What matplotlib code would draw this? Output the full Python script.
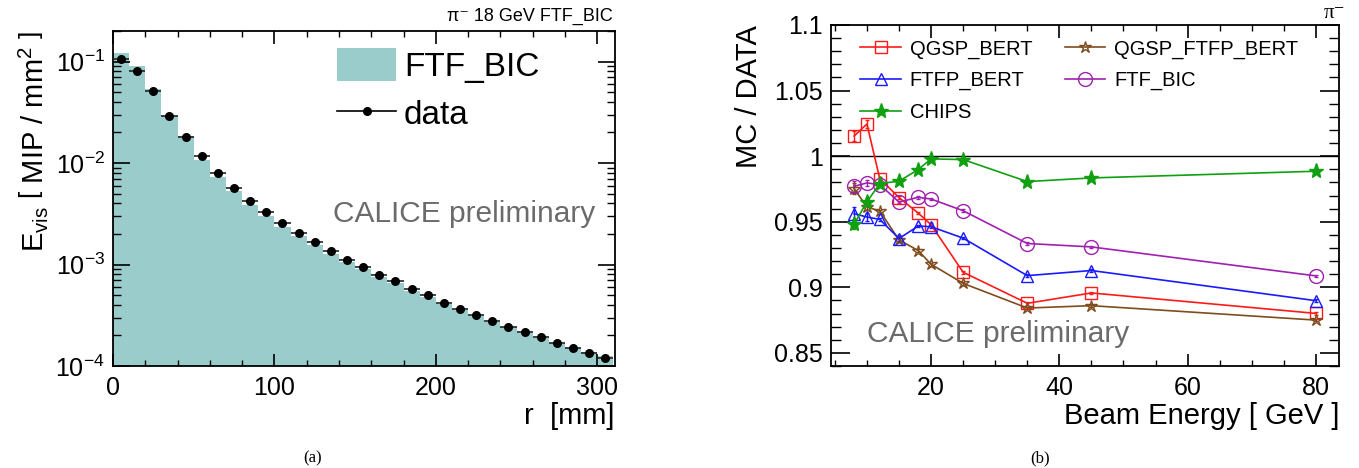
import numpy as np
import matplotlib
matplotlib.use("Agg")
import matplotlib.pyplot as plt
from matplotlib.patches import Patch
from matplotlib.lines import Line2D
from matplotlib.ticker import MultipleLocator, LogLocator, NullFormatter

plt.rcParams['font.family'] = ['Liberation Sans', 'DejaVu Sans']
plt.rcParams['mathtext.fontset'] = 'custom'
plt.rcParams['mathtext.rm'] = 'Liberation Sans'
plt.rcParams['mathtext.it'] = 'Liberation Sans:italic'

# ---------------- Panel (a) data ----------------
r_edges = [0, 10, 20, 30, 40, 50, 60, 70, 80, 90, 100, 110, 120, 130, 140, 150,
           160, 170, 180, 190, 200, 210, 220, 230, 240, 250, 260, 270, 280, 290, 300, 310]
r_centers = [5, 15, 25, 35, 45, 55, 65, 75, 85, 95, 105, 115, 125, 135, 145, 155,
             165, 175, 185, 195, 205, 215, 225, 235, 245, 255, 265, 275, 285, 295, 305]
ftf_bic_hist = [0.121, 0.0906, 0.054, 0.0299, 0.0186, 0.0108, 0.0073, 0.00527, 0.0039,
                0.00299, 0.00235, 0.0019, 0.00154, 0.001257, 0.001056, 0.000905,
                0.000757, 0.000652, 0.000553, 0.000480, 0.000407, 0.000355, 0.000312,
                0.000273, 0.000241, 0.000213, 0.000190, 0.000170, 0.000151, 0.000136,
                0.000126]
data_vals = [0.105, 0.0815, 0.0514, 0.0292, 0.0179, 0.0116, 0.00798, 0.00572, 0.00422,
             0.00327, 0.00255, 0.00203, 0.00165, 0.00135, 0.00112, 0.000955,
             0.000797, 0.000681, 0.000577, 0.000496, 0.000420, 0.000366, 0.000320,
             0.000279, 0.000245, 0.000216, 0.000191, 0.000170, 0.000150, 0.000134,
             0.000120]
r_halfwidth = [5] * 31

# ---------------- Panel (b) data ----------------
energy = [8, 10, 12, 15, 18, 20, 25, 35, 45, 80]
qgsp_bert = [1.0153, 1.0245, 0.9829, 0.9684, 0.9566, 0.9477, 0.9115, 0.8878, 0.8957, 0.8801]
ftfp_bert = [0.9561, 0.9536, 0.9518, 0.9372, 0.9467, 0.9462, 0.9375, 0.9089, 0.9128, 0.8898]
qgsp_ftfp_bert = [0.9753, 0.9612, 0.9582, 0.9362, 0.9280, 0.9176, 0.9030, 0.8842, 0.8860, 0.8750]
ftf_bic = [0.9770, 0.9796, 0.9783, 0.9650, 0.9686, 0.9673, 0.9584, 0.9334, 0.9308, 0.9087]
chips = [0.9482, 0.9651, 0.9791, 0.9809, 0.9898, 0.9979, 0.9974, 0.9806, 0.9834, 0.9885]
qgsp_bert_err = [0.004, 0.003, 0.001, 0.001, 0.001, 0.001, 0.001, 0.001, 0.001, 0.001]
ftfp_bert_err = [0.005, 0.003, 0.001, 0.003, 0.001, 0.001, 0.001, 0.001, 0.001, 0.001]
qgsp_ftfp_bert_err = [0.004, 0.002, 0.001, 0.001, 0.001, 0.001, 0.001, 0.001, 0.001, 0.001]
ftf_bic_err = [0.004, 0.002, 0.001, 0.001, 0.001, 0.001, 0.001, 0.001, 0.001, 0.001]
chips_err = [0.004, 0.003, 0.001, 0.001, 0.001, 0.001, 0.001, 0.001, 0.001, 0.001]

fig = plt.figure(figsize=(13.59, 4.68), dpi=100)

W, H = 1359.0, 468.0
def axrect(x0, y0, x1, y1):
    return [x0 / W, 1 - y1 / H, (x1 - x0) / W, (y1 - y0) / H]

# ================= Panel (a) =================
ax1 = fig.add_axes(axrect(113, 31, 615, 366))
ax1.stairs(ftf_bic_hist, r_edges, fill=True, color='#9acccc', baseline=1e-5, zorder=1)
ax1.errorbar(r_centers, data_vals, xerr=r_halfwidth, fmt='o', color='black',
             ms=5.5, elinewidth=1.2, ecolor='#222222', capsize=0, zorder=3)
ax1.set_yscale('log')
ax1.set_xlim(0, 311)
ax1.set_ylim(1e-4, 0.2)
ax1.xaxis.set_major_locator(MultipleLocator(100))
ax1.xaxis.set_minor_locator(MultipleLocator(20))
ax1.yaxis.set_major_locator(LogLocator(base=10, numticks=10))
ax1.yaxis.set_minor_locator(LogLocator(base=10, subs=np.arange(2, 10), numticks=20))
ax1.yaxis.set_minor_formatter(NullFormatter())
ax1.tick_params(which='both', direction='in', top=True, right=True, labelsize=18)
ax1.tick_params(axis='y', which='major', length=12, width=1.2, pad=6)
ax1.tick_params(axis='y', which='minor', length=6, width=1.0)
ax1.tick_params(axis='x', which='major', length=9, width=1.2, pad=7)
ax1.tick_params(axis='x', which='minor', length=4.5, width=1.0)
for s in ax1.spines.values():
    s.set_linewidth(1.3)
ax1.set_xlabel('r  [mm]', fontsize=21, loc='right', labelpad=2)
ax1.set_ylabel(r'$\mathregular{E}_{\mathregular{vis}}\ \left[\ \mathregular{MIP\ /\ mm^{2}}\ \right]$',
               fontsize=21, loc='top', labelpad=4)
h1 = [Patch(facecolor='#9acccc', edgecolor='none'),
      Line2D([0], [0], color='black', marker='o', ms=5.5, lw=1.2)]
ax1.legend(h1, ['FTF_BIC', 'data'], loc='upper left', bbox_to_anchor=(0.447, 0.95),
           frameon=False, fontsize=24, handlelength=1.75, handleheight=1.15,
           handletextpad=0.25, labelspacing=0.42, borderaxespad=0, borderpad=0)
ax1.text(0.96, 0.455, 'CALICE preliminary', transform=ax1.transAxes, ha='right',
         va='center', fontsize=21.5, color='#6b6b6b')
fig.text(613 / W, 1 - 16 / H, 'π⁻ 18 GeV FTF_BIC', ha='right', va='center',
         fontsize=13)

# ================= Panel (b) =================
ax2 = fig.add_axes(axrect(831, 25, 1339, 366))
ax2.axhline(1.0, color='black', lw=1.0, zorder=1)
series = [
    (qgsp_bert, qgsp_bert_err, 'QGSP_BERT', '#ff1a1a', 's', 'none', 9),
    (qgsp_ftfp_bert, qgsp_ftfp_bert_err, 'QGSP_FTFP_BERT', '#7f4c1e', '*', 'none', 9),
    (ftfp_bert, ftfp_bert_err, 'FTFP_BERT', '#1a1aff', '^', 'none', 9),
    (ftf_bic, ftf_bic_err, 'FTF_BIC', '#a020b0', 'o', 'none', 10),
    (chips, chips_err, 'CHIPS', '#10a010', '*', 'fill', 11),
]
handles = []
for vals, err, lab, col, mk, fill, ms in series:
    mfc = 'none' if fill == 'none' else col
    ax2.errorbar(energy, vals, yerr=err, color=col, marker=mk, ms=ms, mfc=mfc, mec=col,
                 mew=1.0, lw=1.2, elinewidth=1.0, capsize=1.5, zorder=3)
    handles.append(Line2D([0], [0], color=col, marker=mk, ms=ms, mfc=mfc, mec=col,
                          mew=1.0, lw=1.2))
ax2.set_xlim(4.4, 83.6)
ax2.set_ylim(0.84, 1.1)
ax2.xaxis.set_major_locator(MultipleLocator(20))
ax2.xaxis.set_minor_locator(MultipleLocator(5))
ax2.yaxis.set_major_locator(MultipleLocator(0.05))
ax2.yaxis.set_minor_locator(MultipleLocator(0.01))
ax2.yaxis.set_major_formatter(plt.FuncFormatter(lambda v, p: ('%.2f' % v).rstrip('0').rstrip('.')))
ax2.tick_params(which='both', direction='in', top=True, right=True, labelsize=18)
ax2.tick_params(axis='y', which='major', length=14, width=1.2, pad=6)
ax2.tick_params(axis='y', which='minor', length=7, width=1.0)
ax2.tick_params(axis='x', which='major', length=9, width=1.2, pad=7)
ax2.tick_params(axis='x', which='minor', length=4.5, width=1.0)
for s in ax2.spines.values():
    s.set_linewidth(1.3)
ax2.set_xlabel('Beam Energy [ GeV ]', fontsize=21, loc='right', labelpad=2)
ax2.set_ylabel('MC / DATA', fontsize=21, loc='top', labelpad=8)
order = [0, 2, 4, 1, 3]
ax2.legend([handles[i] for i in order], [series[i][2] for i in order], ncol=2,
           loc='upper left', bbox_to_anchor=(0.058, 0.958), frameon=False, fontsize=14.5,
           handlelength=2.0, handletextpad=0.45, columnspacing=1.6, labelspacing=0.62,
           borderaxespad=0, borderpad=0)
ax2.text(0.07, 0.095, 'CALICE preliminary', transform=ax2.transAxes, ha='left',
         va='center', fontsize=21.5, color='#6b6b6b')
fig.text(1335 / W, 1 - 13 / H, 'π⁻', ha='center', va='center', fontsize=15,
         family=['Liberation Serif', 'DejaVu Serif'])

# captions
fig.text(313 / W, 1 - 458 / H, '(a)', ha='center', va='center', fontsize=12,
         family=['Liberation Serif', 'DejaVu Serif'])
fig.text(1040 / W, 1 - 458 / H, '(b)', ha='center', va='center', fontsize=12,
         family=['Liberation Serif', 'DejaVu Serif'])

fig.savefig('out.png', dpi=100)
